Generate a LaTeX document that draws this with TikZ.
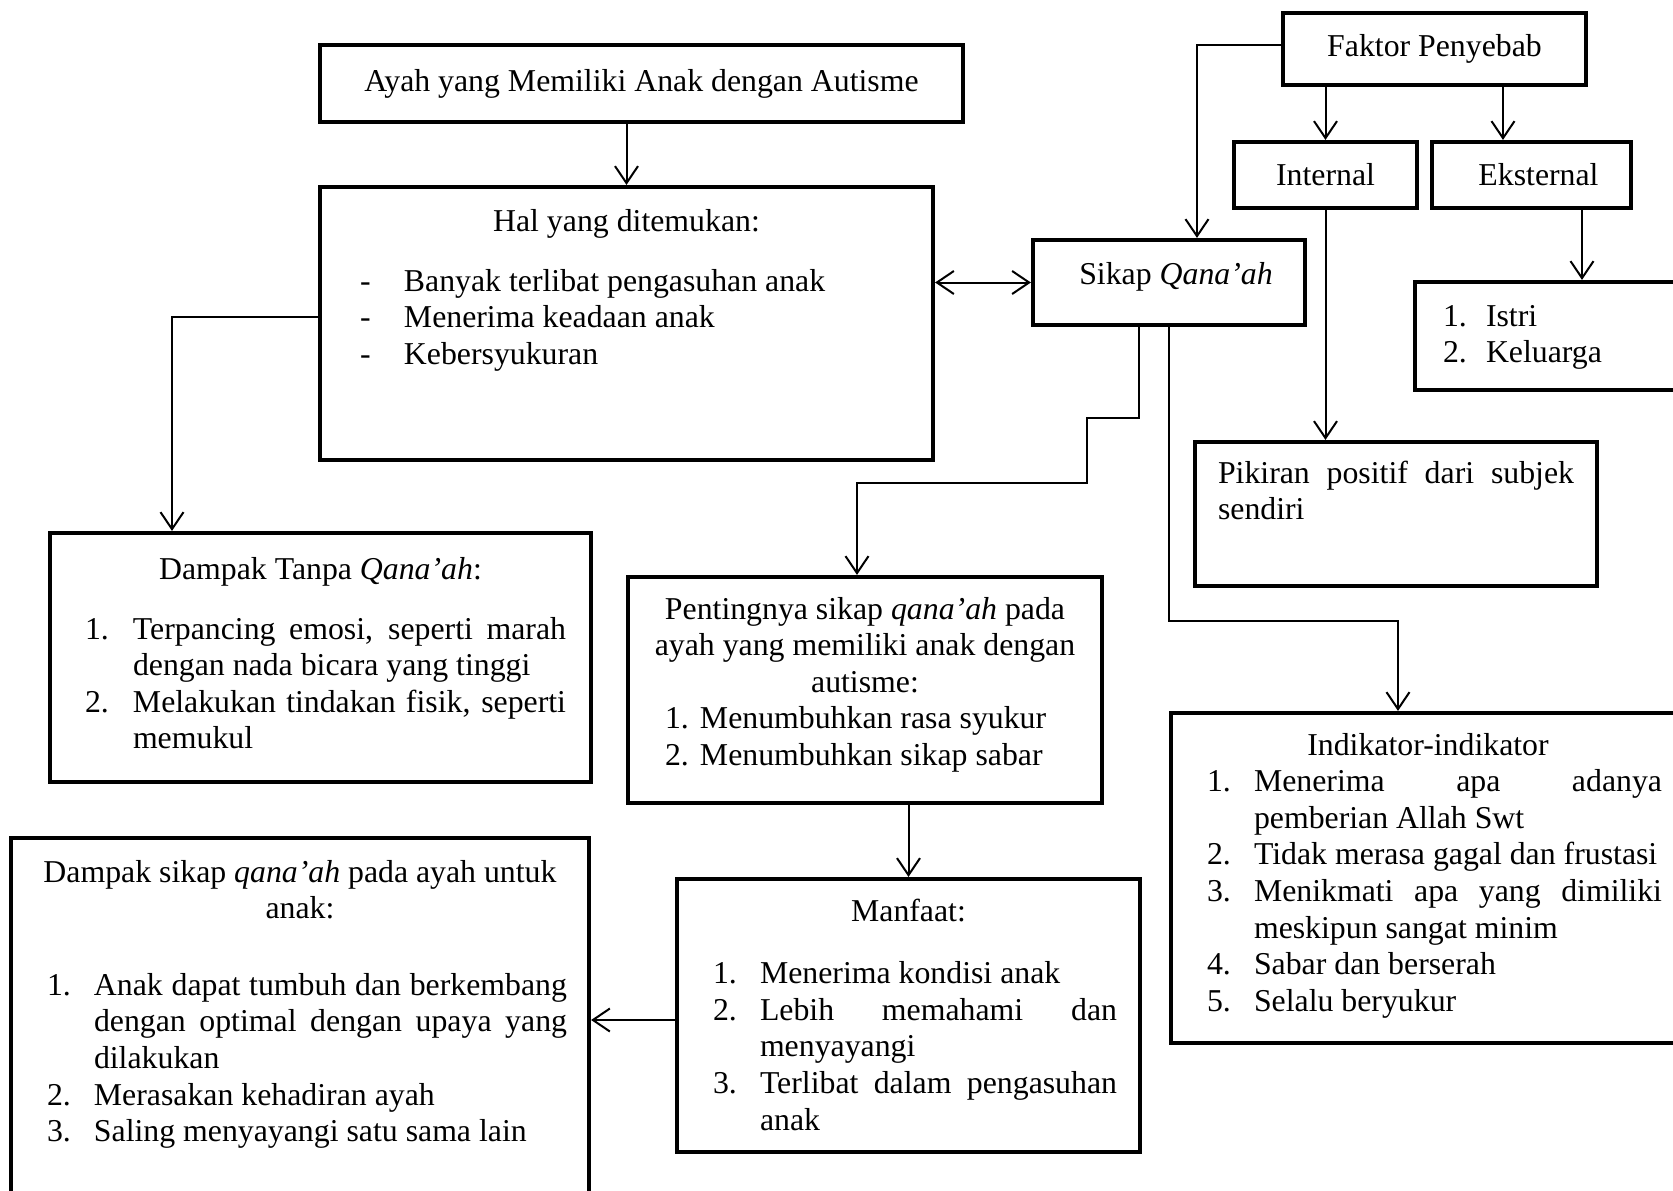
\documentclass[tikz,border=0pt]{standalone}
\usepackage{fontspec}
\setmainfont{Liberation Serif}
\usetikzlibrary{arrows.meta,positioning}

\newlength{\nomorx}
\newlength{\teksx}
\newcommand{\isi}[3]{\parbox[t][#2][t]{#1}{\setlength{\parindent}{0pt}\setlength{\parskip}{0pt}\hyphenpenalty=10000 \tolerance=10000 #3}}
\newcommand{\butir}[2]{\par\noindent\hangindent=\teksx\hangafter=1\hbox to \teksx{\strut\hspace*{\nomorx}#1\hfil}#2\par}

\begin{document}
\begin{tikzpicture}
[x=1pt, y=-1pt,
>={Straight Barb[length=17pt,width=23pt]},
box/.style={draw, rectangle, line width=4.2pt, inner sep=0pt, font=\fontsize{31.8}{36.6}\selectfont},
arrow/.style={line width=2pt, ->},]

\useasboundingbox (0,0) rectangle (1673,1191);
\fill[white] (0,0) rectangle (1673,1191);
\clip (0,0) rectangle (1673,1191);

\node (ayah) [box, minimum width=643pt, minimum height=77pt] at (641.5,83.5) {Ayah yang Memiliki Anak dengan Autisme};

\node (hal) [box, minimum width=613pt, minimum height=273pt] at (626.5,323.5) {\isi{533pt}{236.2pt}{\setlength{\nomorx}{0pt}\setlength{\teksx}{44pt}%
{\centering\strut Hal yang ditemukan:\par}\vspace{23.4pt}%
\butir{-}{Banyak terlibat pengasuhan anak}%
\butir{-}{Menerima keadaan anak}%
\butir{-}{Kebersyukuran}}};

\node (faktor) [box, minimum width=303pt, minimum height=72pt] at (1434.5,49) {Faktor Penyebab};
\node (internal) [box, minimum width=183pt, minimum height=66pt] at (1325.5,175) {Internal};
\node (eksternal) [box, minimum width=199pt, minimum height=66pt] at (1531.5,175) {\hspace*{14pt}Eksternal};

\node (sikap) [box, minimum width=272pt, minimum height=85pt, text height=22pt, text depth=18pt] at (1169,282.5) {\hspace*{14pt}Sikap \textit{Qana’ah}};

\node (istri) [box, minimum width=275pt, minimum height=108pt] at (1552.5,336) {\isi{219pt}{71.2pt}{\setlength{\nomorx}{0pt}\setlength{\teksx}{43pt}%
\butir{1.}{Istri}%
\butir{2.}{Keluarga}}};

\node (pikiran) [box, minimum width=402pt, minimum height=144pt] at (1396,514) {\isi{356pt}{113.2pt}{\strut Pikiran positif dari subjek\linebreak sendiri}};

\node (indikator) [box, minimum width=514pt, minimum height=330pt] at (1428,878) {\isi{468pt}{297.2pt}{\setlength{\nomorx}{13pt}\setlength{\teksx}{60pt}%
{\centering\strut Indikator-indikator\par}%
\butir{1.}{Menerima apa adanya\linebreak pemberian Allah Swt}%
\butir{2.}{Tidak merasa gagal dan frustasi}%
\butir{3.}{Menikmati apa yang dimiliki\linebreak meskipun sangat minim}%
\butir{4.}{Sabar dan berserah}%
\butir{5.}{Selalu beryukur}}};

\node (tanpa) [box, minimum width=541pt, minimum height=249pt] at (320.5,657.5) {\isi{491pt}{208.2pt}{\setlength{\nomorx}{10pt}\setlength{\teksx}{58pt}%
{\centering\strut Dampak Tanpa \textit{Qana’ah}:\par}\vspace{23.4pt}%
\butir{1.}{Terpancing emosi, seperti marah\linebreak dengan nada bicara yang tinggi}%
\butir{2.}{Melakukan tindakan fisik, seperti\linebreak memukul}}};

\node (penting) [box, minimum width=474pt, minimum height=226pt] at (865,690) {\isi{434pt}{193.2pt}{\setlength{\nomorx}{17pt}\setlength{\teksx}{52pt}%
{\centering\strut Pentingnya sikap \textit{qana’ah} pada\\ ayah yang memiliki anak dengan\\ autisme:\par}%
\butir{1.}{Menumbuhkan rasa syukur}%
\butir{2.}{Menumbuhkan sikap sabar}}};

\node (manfaat) [box, minimum width=463pt, minimum height=273pt] at (908.5,1015.5) {\isi{417pt}{240.2pt}{\setlength{\nomorx}{13pt}\setlength{\teksx}{60pt}%
{\centering\strut Manfaat:\par}\vspace{26pt}%
\butir{1.}{Menerima kondisi anak}%
\butir{2.}{Lebih memahami dan\linebreak menyayangi}%
\butir{3.}{Terlibat dalam pengasuhan\linebreak anak}}};

\node (dampak) [box, minimum width=578pt, minimum height=377pt] at (300,1026.5) {\isi{534pt}{340.2pt}{\setlength{\nomorx}{14pt}\setlength{\teksx}{61pt}%
{\centering\strut Dampak sikap \textit{qana’ah} pada ayah untuk\\ anak:\par}\vspace{40pt}%
\butir{1.}{Anak dapat tumbuh dan berkembang\linebreak dengan optimal dengan upaya yang\linebreak dilakukan}%
\butir{2.}{Merasakan kehadiran ayah}%
\butir{3.}{Saling menyayangi satu sama lain}}};

\coordinate (tekuka) at (1087,418);
\coordinate (tekukb) at (857,483);
\coordinate (belok) at (1398,621);

\draw [arrow] (hal.north |- ayah.south) -- (hal.north);
\draw [arrow, <->] (hal.east |- sikap.west) -- (sikap.west);
\draw [arrow] ([yshift=6.5pt]hal.west) -| ([xshift=-148.5pt]tanpa.north);

\draw [arrow] ([yshift=4pt]faktor.west) -| ([xshift=28pt]sikap.north);
\draw [arrow] (internal.north |- faktor.south) -- (internal.north);
\draw [arrow] ([xshift=-28.5pt]eksternal.north |- faktor.south) -- ([xshift=-28.5pt]eksternal.north);
\draw [arrow] ([xshift=50.5pt]eksternal.south) -- ([xshift=50.5pt]eksternal.south |- istri.north);
\draw [arrow] (internal.south) -- (internal.south |- pikiran.north);

\draw [arrow] ([xshift=-30pt]sikap.south) |- (tekuka) |- (tekukb) -- (tekukb |- penting.north);
\draw [arrow] (sikap.south) |- (belok) -- (belok |- indikator.north);

\draw [arrow] (manfaat.north |- penting.south) -- (manfaat.north);
\draw [arrow] ([yshift=-4.5pt]manfaat.west) -- ([yshift=-4.5pt]manfaat.west -| dampak.east);

\end{tikzpicture}
\end{document}
